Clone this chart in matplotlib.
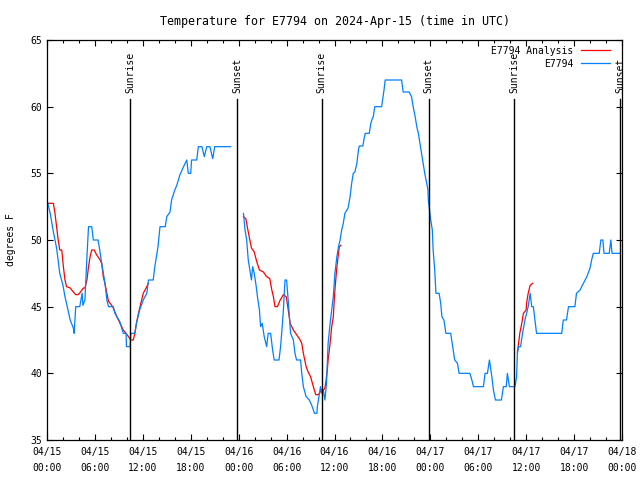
#python3 script recreating the gnuplot-style temperature chart for E7794
import matplotlib
matplotlib.use('Agg')
import matplotlib.pyplot as plt
from matplotlib.ticker import MultipleLocator

# hours since 04/15 00:00 UTC, temperature in degrees F
obs_hours_1 = [0.0, 0.4, 0.8, 1.2, 1.6, 2.0, 2.25, 2.5, 2.9, 3.3, 3.4, 3.6, 4.1, 4.4, 4.5, 4.75,
               5.0, 5.2, 5.6, 5.8, 6.4, 6.6, 6.85, 7.25, 7.5, 7.7, 8.3, 8.5, 9.1, 9.55, 9.9, 9.95,
               10.4, 10.5, 11.0, 11.2, 11.6, 12.05, 12.5, 12.7, 13.3, 13.5, 13.9, 14.15, 14.8, 15.0,
               15.4, 15.6, 16.0, 16.25, 16.65, 17.1, 17.5, 17.7, 18.0, 18.1, 18.75, 18.95, 19.4,
               19.7, 20.0, 20.4, 20.75, 21.0, 23.0]
obs_temps_1 = [53.0, 52.0, 50.6, 49.4, 47.5, 46.6, 45.75, 45.1, 44.0, 43.4, 43.0, 45.0, 45.0, 46.0, 45.1, 45.5,
               48.75, 51.0, 51.0, 50.0, 50.0, 49.25, 48.25, 46.8, 45.5, 45.0, 45.0, 44.5, 43.9, 43.0, 43.0, 42.0,
               42.0, 43.0, 43.0, 43.75, 44.75, 45.5, 46.0, 47.0, 47.0, 48.0, 49.5, 51.0, 51.0, 51.75,
               52.1, 53.0, 53.75, 54.1, 54.9, 55.5, 56.0, 55.0, 55.0, 56.0, 56.0, 57.0, 57.0,
               56.25, 57.0, 57.0, 56.1, 57.0, 57.0]

obs_hours_2 = [24.6, 24.8, 25.0, 25.2, 25.4, 25.6, 25.75, 25.95, 26.2, 26.35, 26.6, 26.75, 26.95, 27.2,
               27.5, 27.7, 28.0, 28.25, 28.45, 29.05, 29.25, 29.45, 29.6, 29.8, 30.0, 30.2, 30.35, 30.5,
               30.85, 31.05, 31.25, 31.75, 31.9, 32.1, 32.45, 32.85, 33.15, 33.5, 33.8, 33.85, 34.05,
               34.25, 34.4, 34.6, 34.8, 35.0, 35.1, 35.2, 35.45, 35.65, 35.85, 36.05, 36.3, 36.5, 36.7,
               36.9, 37.1, 37.3, 37.7, 37.95, 38.15, 38.35, 38.55, 38.8, 39.0, 39.1, 39.55, 39.7, 39.85,
               40.35, 40.55, 40.7, 40.85, 41.05, 41.9, 42.05, 42.2, 42.35, 44.4, 44.6, 45.35, 45.65,
               45.85, 46.1, 46.3, 46.5, 46.7, 46.9, 47.1, 47.3, 47.55, 47.7, 47.75, 47.85, 48.05, 48.25,
               48.35, 48.55, 48.7, 49.1, 49.3, 49.45, 49.7, 49.95, 50.55, 50.8, 51.05, 51.4, 51.6,
               52.95, 53.2, 53.4, 54.65, 54.85, 55.15, 55.4, 55.7, 55.9, 56.15, 56.9, 57.15, 57.5,
               57.65, 57.9, 58.6, 58.8, 58.9, 59.05, 59.3, 59.55, 59.85, 60.05, 60.25, 60.5, 60.7,
               60.9, 61.1, 61.3, 64.45, 64.65, 65.05, 65.3, 66.1, 66.3, 66.75, 66.95, 67.6, 68.0,
               68.2, 68.4, 69.15, 69.35, 69.6, 69.75, 70.4, 70.6, 70.75, 71.75]
obs_temps_2 = [52.0, 50.75, 50.0, 48.5, 47.75, 47.0, 48.0, 47.5, 46.5, 45.75, 44.75, 43.5, 43.75, 42.75,
               42.0, 43.0, 43.0, 41.75, 41.0, 41.0, 42.0, 43.5, 44.75, 47.0, 47.0, 45.5, 44.25, 43.0,
               42.5, 41.5, 41.0, 41.0, 40.0, 39.0, 38.25, 38.0, 37.6, 37.0, 37.0, 37.5, 38.25,
               39.0, 38.5, 38.75, 38.0, 39.25, 40.75, 42.25, 43.75, 44.75, 45.75, 47.5, 48.75, 49.5, 50.0,
               50.75, 51.25, 52.0, 52.4, 53.25, 54.25, 55.0, 55.1, 55.75, 56.75, 57.05, 57.05, 57.6, 58.0,
               58.0, 58.75, 59.05, 59.25, 60.0, 60.0, 60.6, 61.25, 62.0, 62.0, 61.1, 61.1, 60.75,
               60.0, 59.25, 58.5, 58.0, 57.25, 56.5, 55.75, 55.0, 54.25, 53.75, 53.0, 52.5, 51.5, 50.75,
               49.25, 47.75, 46.0, 46.0, 45.25, 44.25, 44.0, 43.0, 43.0, 42.0, 41.0, 40.75, 40.0,
               40.0, 39.5, 39.0, 39.0, 40.0, 40.0, 41.0, 39.75, 38.75, 38.0, 38.0, 39.0, 39.0,
               40.0, 39.0, 39.0, 39.75, 41.5, 42.0, 42.0, 43.0, 44.0, 44.5, 45.0, 46.0, 45.0,
               45.0, 44.0, 43.0, 43.0, 44.0, 44.0, 45.0, 45.0, 46.0, 46.25, 46.5, 47.25, 47.9,
               48.5, 49.0, 49.0, 50.0, 50.0, 49.0, 49.0, 50.0, 49.0, 49.0]

ana_hours_1 = [0.15, 0.8, 1.0, 1.2, 1.4, 1.6, 1.85, 2.05, 2.25, 2.45, 2.9, 3.3, 3.6, 3.9, 4.2, 4.55,
               4.75, 5.0, 5.2, 5.4, 5.6, 5.9, 6.2, 6.65, 6.85, 7.05, 7.25, 7.5, 7.7, 8.1, 8.3, 8.75,
               9.15, 9.55, 9.9, 10.2, 10.5, 10.8, 11.0, 11.2, 11.45, 11.85, 12.05, 12.5, 12.7]
ana_temps_1 = [52.75, 52.75, 52.0, 51.0, 50.0, 49.25, 49.25, 48.0, 47.0, 46.5, 46.4, 46.1, 45.9, 45.9, 46.1, 46.4,
               46.4, 47.0, 48.0, 48.75, 49.25, 49.25, 48.9, 48.5, 48.25, 47.25, 46.75, 46.0, 45.4, 45.1, 44.9, 44.25,
               43.75, 43.25, 43.0, 42.75, 42.5, 42.5, 43.0, 43.75, 44.5, 45.5, 46.0, 46.5, 46.75]

ana_hours_2 = [24.6, 24.9, 25.2, 25.6, 25.95, 26.25, 26.6, 27.1, 27.5, 27.9, 28.15, 28.35, 28.55, 28.85,
               29.2, 29.6, 29.95, 30.15, 30.45, 30.85, 31.25, 31.7, 31.9, 32.1, 32.45, 32.7, 33.0, 33.35,
               33.65, 34.0, 34.2, 34.4, 34.7, 34.8, 34.95, 35.1, 35.2, 35.45, 35.65, 35.85, 36.05, 36.3,
               36.5, 36.6, 36.8]
ana_temps_2 = [51.75, 51.6, 50.6, 49.4, 49.1, 48.4, 47.75, 47.6, 47.25, 47.1, 46.25, 45.75, 45.0, 45.0,
               45.5, 45.9, 45.75, 45.0, 43.75, 43.25, 42.9, 42.5, 42.25, 41.5, 40.5, 40.1, 39.75, 39.0,
               38.4, 38.4, 38.6, 38.75, 38.8, 38.9, 39.5, 40.25, 41.0, 42.25, 43.5, 44.25, 46.25, 48.0,
               49.0, 49.5, 49.6]

ana_hours_3 = [58.9, 59.05, 59.2, 59.45, 59.65, 60.0, 60.05, 60.25, 60.5, 60.8]
ana_temps_3 = [41.6, 42.25, 43.0, 43.75, 44.5, 44.75, 45.25, 46.0, 46.6, 46.75]

sun_hours = [10.4, 23.8, 34.4, 47.8, 58.5, 71.8]
sun_labels = ['Sunrise', 'Sunset', 'Sunrise', 'Sunset', 'Sunrise', 'Sunset']

tick_hours = [0, 6, 12, 18, 24, 30, 36, 42, 48, 54, 60, 66, 72]
tick_labels = ['04/15\n00:00', '04/15\n06:00', '04/15\n12:00', '04/15\n18:00',
               '04/16\n00:00', '04/16\n06:00', '04/16\n12:00', '04/16\n18:00',
               '04/17\n00:00', '04/17\n06:00', '04/17\n12:00', '04/17\n18:00',
               '04/18\n00:00']

plt.rcParams['font.family'] = ['DejaVu Sans Mono']
plt.rcParams['font.size'] = 7

fig = plt.figure(figsize=(6.4, 4.8), dpi=100)
ax = fig.add_axes([47 / 640, 40 / 480, 575 / 640, 400 / 480])

red = '#ff0000'
blue = '#0080ff'

# analysis (red) drawn under the observations
ax.plot(ana_hours_1, ana_temps_1, color=red, lw=0.9, label='E7794 Analysis')
ax.plot(ana_hours_2, ana_temps_2, color=red, lw=0.9)
ax.plot(ana_hours_3, ana_temps_3, color=red, lw=0.9)
ax.plot(obs_hours_1, obs_temps_1, color=blue, lw=0.9, label='E7794')
ax.plot(obs_hours_2, obs_temps_2, color=blue, lw=0.9)

# sunrise / sunset markers
for h, lab in zip(sun_hours, sun_labels):
    ax.plot([h, h], [35, 60.6], color='black', lw=1.0)
    ax.text(h, 61.0, lab, rotation=90, ha='center', va='bottom')

ax.set_xlim(0, 72)
ax.set_ylim(35, 65)
ax.set_xticks(tick_hours)
ax.set_xticklabels(tick_labels, linespacing=1.8)
ax.xaxis.set_minor_locator(MultipleLocator(2))
ax.set_yticks(range(35, 66, 5))
ax.tick_params(which='both', direction='in', top=True, right=True)
ax.tick_params(axis='x', pad=5)
ax.tick_params(which='major', length=4, width=0.8)
ax.tick_params(which='minor', length=2.5, width=0.8)
for s in ax.spines.values():
    s.set_linewidth(0.9)

ax.set_ylabel('degrees F', labelpad=10)
ax.set_title('Temperature for E7794 on 2024-Apr-15 (time in UTC)', pad=11)

leg = ax.legend(loc='upper right', bbox_to_anchor=(0.99, 1.0), frameon=False, markerfirst=False,
                handlelength=3.0, labelspacing=0.3, borderaxespad=0.2, handletextpad=0.8)

plt.savefig('out.png', dpi=100)
